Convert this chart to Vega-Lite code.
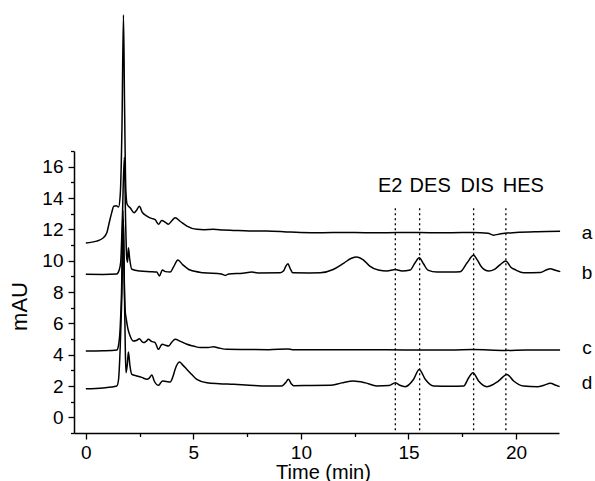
{
  "$schema": "https://vega.github.io/schema/vega-lite/v6.json",
  "width": 485,
  "height": 282,
  "autosize": {"type": "none"},
  "padding": {"left": 74, "top": 151, "right": 36, "bottom": 48},
  "background": "white",
  "config": {
    "view": {"stroke": null},
    "font": "Liberation Sans",
    "axis": {
      "grid": false,
      "domainColor": "black",
      "domainWidth": 1.5,
      "tickColor": "black",
      "tickWidth": 1.3,
      "labelColor": "black",
      "titleColor": "black",
      "labelFont": "Liberation Sans",
      "titleFont": "Liberation Sans",
      "labelFontSize": 19,
      "titleFontSize": 20,
      "titleFontWeight": "normal",
      "labelOverlap": false,
      "labelFlush": false,
      "labelBound": false
    }
  },
  "datasets": {
    "traces": [
      {"trace":"a","t":0,"v":11.13},{"trace":"a","t":0.5,"v":11.25},{"trace":"a","t":0.8,"v":11.45},{"trace":"a","t":0.98,"v":11.8},{"trace":"a","t":1.1,"v":12.5},{"trace":"a","t":1.21,"v":13.1},{"trace":"a","t":1.3,"v":13.48},{"trace":"a","t":1.42,"v":13.5},{"trace":"a","t":1.52,"v":13.42},{"trace":"a","t":1.6,"v":14.2},{"trace":"a","t":1.68,"v":18.5},{"trace":"a","t":1.75,"v":25.7},{"trace":"a","t":1.8,"v":20},{"trace":"a","t":1.86,"v":14.5},{"trace":"a","t":1.92,"v":13.6},{"trace":"a","t":2.06,"v":13.38},{"trace":"a","t":2.25,"v":13.06},{"trace":"a","t":2.35,"v":13.2},{"trace":"a","t":2.49,"v":13.48},{"trace":"a","t":2.62,"v":13.1},{"trace":"a","t":2.84,"v":12.85},{"trace":"a","t":3.05,"v":12.7},{"trace":"a","t":3.22,"v":12.62},{"trace":"a","t":3.38,"v":12.32},{"trace":"a","t":3.53,"v":12.57},{"trace":"a","t":3.7,"v":12.45},{"trace":"a","t":3.84,"v":12.33},{"trace":"a","t":4.0,"v":12.55},{"trace":"a","t":4.15,"v":12.74},{"trace":"a","t":4.4,"v":12.5},{"trace":"a","t":4.7,"v":12.21},{"trace":"a","t":5.16,"v":12.0},{"trace":"a","t":5.5,"v":11.98},{"trace":"a","t":5.93,"v":12.0},{"trace":"a","t":6.4,"v":11.95},{"trace":"a","t":6.86,"v":11.93},{"trace":"a","t":7.6,"v":11.9},{"trace":"a","t":8.4,"v":11.89},{"trace":"a","t":9.2,"v":11.85},{"trace":"a","t":9.97,"v":11.8},{"trace":"a","t":11,"v":11.78},{"trace":"a","t":12,"v":11.8},{"trace":"a","t":13,"v":11.78},{"trace":"a","t":14,"v":11.78},{"trace":"a","t":15,"v":11.8},{"trace":"a","t":16,"v":11.78},{"trace":"a","t":17,"v":11.78},{"trace":"a","t":18,"v":11.8},{"trace":"a","t":18.7,"v":11.75},{"trace":"a","t":18.95,"v":11.63},{"trace":"a","t":19.3,"v":11.72},{"trace":"a","t":20,"v":11.8},{"trace":"a","t":21,"v":11.85},{"trace":"a","t":22.05,"v":11.87},
      {"trace":"b","t":0,"v":9.13},{"trace":"b","t":0.8,"v":9.12},{"trace":"b","t":1.44,"v":9.15},{"trace":"b","t":1.55,"v":9.4},{"trace":"b","t":1.62,"v":9.9},{"trace":"b","t":1.7,"v":12.8},{"trace":"b","t":1.79,"v":16.6},{"trace":"b","t":1.85,"v":12.5},{"trace":"b","t":1.9,"v":10.2},{"trace":"b","t":1.94,"v":9.9},{"trace":"b","t":1.98,"v":10.83},{"trace":"b","t":2.04,"v":10.1},{"trace":"b","t":2.14,"v":9.45},{"trace":"b","t":2.53,"v":9.34},{"trace":"b","t":3.0,"v":9.3},{"trace":"b","t":3.3,"v":9.27},{"trace":"b","t":3.42,"v":9.02},{"trace":"b","t":3.56,"v":9.4},{"trace":"b","t":3.7,"v":9.3},{"trace":"b","t":3.92,"v":9.27},{"trace":"b","t":4.08,"v":9.6},{"trace":"b","t":4.28,"v":10.04},{"trace":"b","t":4.5,"v":9.75},{"trace":"b","t":4.85,"v":9.4},{"trace":"b","t":5.47,"v":9.23},{"trace":"b","t":6.3,"v":9.15},{"trace":"b","t":6.48,"v":9.06},{"trace":"b","t":6.65,"v":9.15},{"trace":"b","t":7.3,"v":9.2},{"trace":"b","t":7.72,"v":9.27},{"trace":"b","t":8.0,"v":9.22},{"trace":"b","t":9.04,"v":9.23},{"trace":"b","t":9.2,"v":9.35},{"trace":"b","t":9.3,"v":9.65},{"trace":"b","t":9.4,"v":9.8},{"trace":"b","t":9.5,"v":9.5},{"trace":"b","t":9.62,"v":9.23},{"trace":"b","t":10.4,"v":9.22},{"trace":"b","t":10.9,"v":9.23},{"trace":"b","t":11.5,"v":9.44},{"trace":"b","t":12.0,"v":9.85},{"trace":"b","t":12.35,"v":10.15},{"trace":"b","t":12.6,"v":10.23},{"trace":"b","t":12.9,"v":10.05},{"trace":"b","t":13.2,"v":9.65},{"trace":"b","t":13.6,"v":9.4},{"trace":"b","t":14.0,"v":9.34},{"trace":"b","t":14.39,"v":9.44},{"trace":"b","t":14.7,"v":9.34},{"trace":"b","t":15.08,"v":9.4},{"trace":"b","t":15.3,"v":9.85},{"trace":"b","t":15.5,"v":10.19},{"trace":"b","t":15.7,"v":9.8},{"trace":"b","t":15.9,"v":9.4},{"trace":"b","t":16.33,"v":9.27},{"trace":"b","t":17.0,"v":9.27},{"trace":"b","t":17.41,"v":9.3},{"trace":"b","t":17.72,"v":9.85},{"trace":"b","t":18.03,"v":10.34},{"trace":"b","t":18.2,"v":10.05},{"trace":"b","t":18.4,"v":9.6},{"trace":"b","t":18.73,"v":9.34},{"trace":"b","t":19.0,"v":9.45},{"trace":"b","t":19.27,"v":9.75},{"trace":"b","t":19.53,"v":9.98},{"trace":"b","t":19.75,"v":9.6},{"trace":"b","t":20.0,"v":9.4},{"trace":"b","t":20.35,"v":9.23},{"trace":"b","t":21.13,"v":9.25},{"trace":"b","t":21.4,"v":9.4},{"trace":"b","t":21.6,"v":9.49},{"trace":"b","t":21.8,"v":9.4},{"trace":"b","t":22.06,"v":9.3},
      {"trace":"c","t":0,"v":4.23},{"trace":"c","t":0.8,"v":4.25},{"trace":"c","t":1.44,"v":4.3},{"trace":"c","t":1.52,"v":4.6},{"trace":"c","t":1.6,"v":5.8},{"trace":"c","t":1.66,"v":8},{"trace":"c","t":1.73,"v":13.2},{"trace":"c","t":1.78,"v":9},{"trace":"c","t":1.83,"v":6.8},{"trace":"c","t":1.87,"v":6.36},{"trace":"c","t":1.95,"v":5.7},{"trace":"c","t":2.06,"v":5.19},{"trace":"c","t":2.21,"v":4.87},{"trace":"c","t":2.35,"v":4.9},{"trace":"c","t":2.49,"v":5.02},{"trace":"c","t":2.6,"v":4.85},{"trace":"c","t":2.68,"v":4.77},{"trace":"c","t":2.8,"v":4.85},{"trace":"c","t":2.91,"v":4.98},{"trace":"c","t":3.05,"v":4.85},{"trace":"c","t":3.22,"v":4.77},{"trace":"c","t":3.38,"v":4.34},{"trace":"c","t":3.5,"v":4.6},{"trace":"c","t":3.56,"v":4.66},{"trace":"c","t":3.7,"v":4.6},{"trace":"c","t":3.84,"v":4.55},{"trace":"c","t":4.0,"v":4.8},{"trace":"c","t":4.15,"v":4.98},{"trace":"c","t":4.4,"v":4.85},{"trace":"c","t":4.7,"v":4.66},{"trace":"c","t":5.0,"v":4.55},{"trace":"c","t":5.32,"v":4.45},{"trace":"c","t":5.7,"v":4.45},{"trace":"c","t":5.93,"v":4.51},{"trace":"c","t":6.2,"v":4.42},{"trace":"c","t":6.56,"v":4.34},{"trace":"c","t":7.5,"v":4.33},{"trace":"c","t":8.5,"v":4.32},{"trace":"c","t":9.4,"v":4.36},{"trace":"c","t":9.6,"v":4.32},{"trace":"c","t":11,"v":4.32},{"trace":"c","t":13,"v":4.32},{"trace":"c","t":15,"v":4.3},{"trace":"c","t":17,"v":4.3},{"trace":"c","t":18,"v":4.33},{"trace":"c","t":19.5,"v":4.27},{"trace":"c","t":20.5,"v":4.3},{"trace":"c","t":22.05,"v":4.3},
      {"trace":"d","t":0,"v":1.83},{"trace":"d","t":0.8,"v":1.88},{"trace":"d","t":1.44,"v":2.0},{"trace":"d","t":1.52,"v":2.4},{"trace":"d","t":1.6,"v":4.5},{"trace":"d","t":1.67,"v":7.5},{"trace":"d","t":1.75,"v":12.6},{"trace":"d","t":1.8,"v":7.5},{"trace":"d","t":1.84,"v":4},{"trace":"d","t":1.87,"v":2.85},{"trace":"d","t":1.93,"v":3.4},{"trace":"d","t":1.98,"v":4.17},{"trace":"d","t":2.05,"v":3.3},{"trace":"d","t":2.14,"v":2.74},{"trace":"d","t":2.37,"v":2.64},{"trace":"d","t":2.6,"v":2.55},{"trace":"d","t":2.84,"v":2.43},{"trace":"d","t":2.95,"v":2.5},{"trace":"d","t":3.07,"v":2.7},{"trace":"d","t":3.18,"v":2.32},{"trace":"d","t":3.38,"v":2.04},{"trace":"d","t":3.56,"v":2.32},{"trace":"d","t":3.75,"v":2.28},{"trace":"d","t":3.92,"v":2.25},{"trace":"d","t":4.05,"v":2.6},{"trace":"d","t":4.15,"v":3.06},{"trace":"d","t":4.35,"v":3.53},{"trace":"d","t":4.5,"v":3.35},{"trace":"d","t":4.7,"v":3.06},{"trace":"d","t":4.95,"v":2.7},{"trace":"d","t":5.16,"v":2.43},{"trace":"d","t":5.63,"v":2.21},{"trace":"d","t":6.2,"v":2.15},{"trace":"d","t":6.87,"v":2.11},{"trace":"d","t":7.6,"v":2.05},{"trace":"d","t":8.42,"v":2.0},{"trace":"d","t":9.1,"v":2.0},{"trace":"d","t":9.28,"v":2.2},{"trace":"d","t":9.42,"v":2.43},{"trace":"d","t":9.55,"v":2.15},{"trace":"d","t":9.66,"v":2.02},{"trace":"d","t":10.5,"v":2.03},{"trace":"d","t":11.36,"v":2.04},{"trace":"d","t":11.9,"v":2.2},{"trace":"d","t":12.45,"v":2.32},{"trace":"d","t":13.0,"v":2.2},{"trace":"d","t":13.53,"v":2.0},{"trace":"d","t":14.1,"v":2.03},{"trace":"d","t":14.39,"v":2.21},{"trace":"d","t":14.6,"v":2.05},{"trace":"d","t":14.85,"v":1.96},{"trace":"d","t":15.24,"v":2.43},{"trace":"d","t":15.5,"v":3.06},{"trace":"d","t":15.78,"v":2.43},{"trace":"d","t":16.17,"v":2.0},{"trace":"d","t":17.0,"v":1.98},{"trace":"d","t":17.57,"v":2.0},{"trace":"d","t":17.8,"v":2.53},{"trace":"d","t":18.0,"v":2.85},{"trace":"d","t":18.26,"v":2.32},{"trace":"d","t":18.65,"v":1.96},{"trace":"d","t":19.0,"v":2.15},{"trace":"d","t":19.19,"v":2.32},{"trace":"d","t":19.58,"v":2.74},{"trace":"d","t":19.89,"v":2.32},{"trace":"d","t":20.35,"v":2.0},{"trace":"d","t":21.0,"v":1.96},{"trace":"d","t":21.3,"v":2.05},{"trace":"d","t":21.6,"v":2.17},{"trace":"d","t":21.85,"v":2.05},{"trace":"d","t":22.03,"v":1.96}
    ],
    "traceLabels": [
      {"trace":"a","t":23.3,"v":11.79},
      {"trace":"b","t":23.3,"v":9.23},
      {"trace":"c","t":23.3,"v":4.45},
      {"trace":"d","t":23.3,"v":2.21}
    ],
    "peaks": [
      {"compound":"E2","rt":14.39,"label_t":14.15},
      {"compound":"DES","rt":15.52,"label_t":16.01},
      {"compound":"DIS","rt":18.03,"label_t":18.2},
      {"compound":"HES","rt":19.53,"label_t":20.34}
    ]
  },
  "encoding": {
    "x": {
      "type": "quantitative",
      "scale": {"domain": [-0.55, 22], "nice": false, "zero": false},
      "axis": {
        "title": "Time (min)",
        "values": [0, 2.5, 5, 7.5, 10, 12.5, 15, 17.5, 20],
        "labelExpr": "datum.value % 5 === 0 ? datum.label : ''",
        "tickSize": {"condition": {"test": "datum.value % 5 === 0", "value": 6}, "value": 3.5},
        "labelPadding": 4,
        "titleBaseline": "alphabetic",
        "titleY": 45,
        "titleX": 249
      }
    },
    "y": {
      "type": "quantitative",
      "scale": {"domain": [-1, 17], "nice": false, "zero": false},
      "axis": {
        "title": "mAU",
        "values": [-1, 0, 1, 2, 3, 4, 5, 6, 7, 8, 9, 10, 11, 12, 13, 14, 15, 16, 17],
        "labelExpr": "datum.value % 2 === 0 ? datum.label : ''",
        "tickSize": {"condition": {"test": "datum.value % 2 === 0", "value": 6}, "value": 3.5},
        "labelPadding": 5,
        "titleAngle": 270,
        "titleBaseline": "alphabetic",
        "titleAlign": "center",
        "titleFontSize": 22,
        "titleX": -48,
        "titleY": 155
      }
    }
  },
  "layer": [
    {
      "data": {"name": "traces"},
      "mark": {"type": "line", "color": "black", "strokeWidth": 1.5, "clip": false, "interpolate": "monotone"},
      "encoding": {
        "x": {"field": "t"},
        "y": {"field": "v"},
        "detail": {"field": "trace", "type": "nominal"}
      }
    },
    {
      "data": {"name": "peaks"},
      "mark": {"type": "rule", "color": "black", "strokeWidth": 1.3, "strokeDash": [2, 3]},
      "encoding": {
        "x": {"field": "rt"},
        "y": {"datum": 13.34},
        "y2": {"datum": -1}
      }
    },
    {
      "data": {"name": "peaks"},
      "mark": {"type": "text", "fontSize": 20, "font": "Liberation Sans", "color": "black", "baseline": "middle", "align": "center", "clip": false},
      "encoding": {
        "x": {"field": "label_t"},
        "y": {"datum": 14.74},
        "text": {"field": "compound"}
      }
    },
    {
      "data": {"name": "traceLabels"},
      "mark": {"type": "text", "fontSize": 19, "font": "Liberation Sans", "color": "black", "baseline": "middle", "align": "center", "clip": false},
      "encoding": {
        "x": {"field": "t"},
        "y": {"field": "v"},
        "text": {"field": "trace"}
      }
    }
  ]
}
